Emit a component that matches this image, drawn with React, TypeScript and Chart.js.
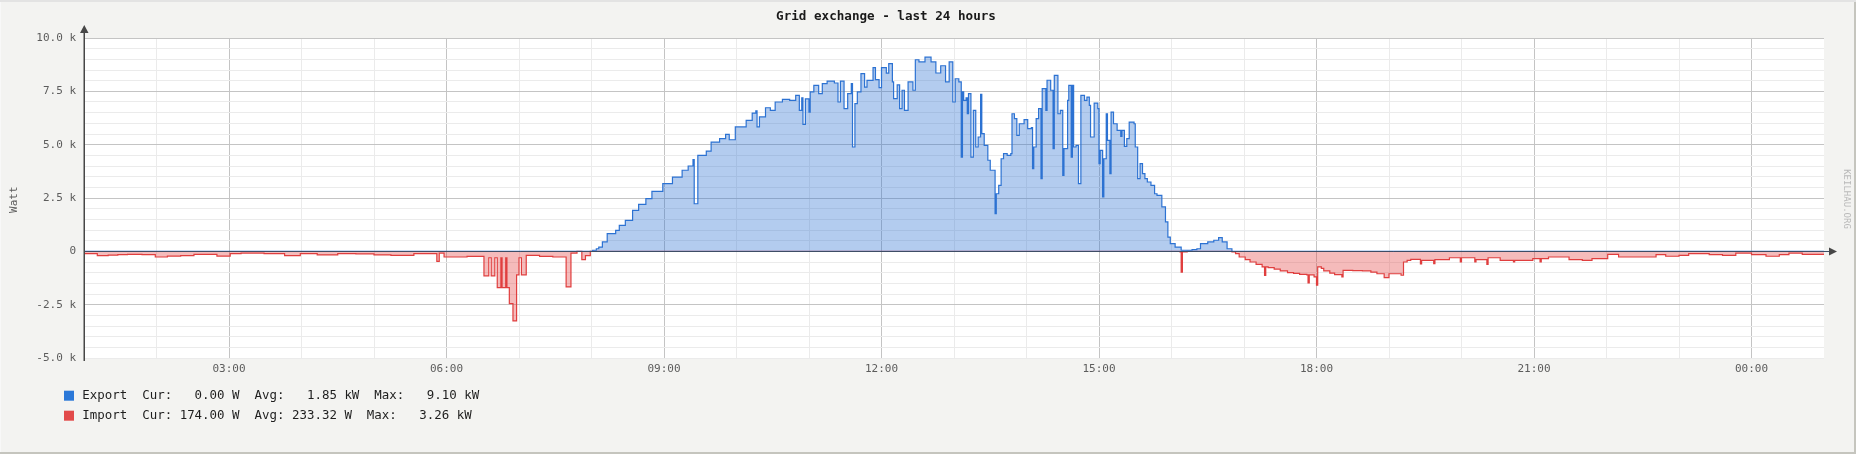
import React, { useEffect, useRef } from 'react';
import { Chart, registerables } from 'chart.js';

Chart.register(...registerables);

// ---------- texts ----------
const TITLE = 'Grid exchange - last 24 hours';
const Y_TITLE = 'Watt';
const WATERMARK = 'KEILHAU.ORG';
const START_HOUR = 1; // x = 0 minutes is 01:00
const SPAN_MINUTES = 1440;

// ---------- legend values ----------
const seriesNames = ['Export', 'Import'];
const curValues = [0.0, 174.0];
const curPrefix = ['', ''];
const avgValues = [1.85, 233.32];
const avgPrefix = ['k', ''];
const maxValues = [9.1, 3.26];
const maxPrefix = ['k', 'k'];

// ---------- data: minutes since 01:00 and watts (step changes) ----------
const exportMinutes = [
  0, 419, 421, 424, 426, 429, 433, 440, 443, 448, 454, 459, 465, 470, 479, 487, 495, 500, 504, 505,
  508, 515, 519, 526, 531, 534, 539, 548, 553, 556, 557, 559, 564, 568, 572, 578, 584, 589, 592, 594,
  595, 597, 600, 601, 604, 608, 611, 615, 621, 624, 626, 629, 632, 635, 636, 638, 640, 643, 646, 648,
  653, 655, 658, 660, 664, 666, 669, 670, 673, 675, 677, 679, 682, 686, 688, 691, 696, 701, 705, 709,
  713, 716, 719, 721, 724, 726, 727, 728, 730, 731, 732, 734, 736, 738, 740, 742, 743, 745, 748, 750,
  754, 755, 757, 759, 761, 764, 767, 768, 770, 772, 774, 778, 781, 784, 785, 786, 788, 790, 792, 793,
  796, 797, 800, 802, 803, 806, 808, 810, 811, 814, 815, 817, 818, 819, 821, 823, 825, 828, 830, 832,
  833, 836, 839, 840, 841, 843, 844, 846, 847, 849, 850, 852, 855, 858, 859, 861, 863, 865, 869, 870,
  872, 874, 876, 878, 880, 883, 886, 888, 892, 895, 897, 899, 903, 908, 913, 917, 921, 924, 930, 935,
  939, 942, 946, 950, 1440,
];
const exportWatts = [
  0, 0, 50, 120, 200, 440, 830, 985, 1220, 1450, 1920, 2200, 2470, 2810, 3170, 3480, 3800, 4000, 4300, 2230,
  4500, 4700, 5120, 5280, 5480, 5230, 5830, 6140, 6480, 6580, 5830, 6300, 6730, 6610, 7000, 7125, 7080, 7310, 6610, 7200,
  5950, 7150, 6530, 7470, 7780, 7390, 7860, 7980, 7890, 7000, 7980, 6690, 7390, 7860, 4890, 6920, 7470, 8330, 7700, 8010,
  8610, 8050, 7670, 8610, 8350, 8800, 7940, 7160, 7800, 6690, 7550, 6610, 7940, 7550, 8980, 8880, 9100, 8880, 8360, 8700,
  7940, 8880, 7000, 8090, 7940, 4420, 7470, 7080, 7200, 6450, 7390, 4420, 6610, 4890, 5360, 7360, 5520, 4970, 4270, 3800,
  1770, 2700, 3090, 4340, 4580, 4500, 4580, 6450, 6220, 5440, 5980, 6170, 5750, 5800, 3880, 4890, 6220, 6690, 3410, 7630,
  6610, 8020, 7550, 4810, 8250, 6450, 6610, 3560, 4810, 7080, 7780, 4420, 7780, 4890, 4970, 3170, 7310, 7080, 7230, 6840,
  5360, 6950, 6690, 4110, 4730, 2550, 4340, 6450, 5200, 3640, 6530, 5980, 5670, 5390, 5670, 4920, 5280, 6060, 5980, 4890,
  3410, 4110, 3640, 3410, 3250, 3090, 2700, 2620, 2080, 1380, 670, 360, 200, 50, 50, 80, 120, 360, 440, 520,
  640, 440, 120, 0, 0,
];

const importMinutes = [
  0, 11, 20, 28, 36, 48, 59, 69, 80, 91, 110, 121, 130, 149, 166, 179, 193, 210, 225, 240,
  254, 273, 292, 294, 298, 317, 331, 335, 337, 340, 342, 345, 346, 349, 350, 352, 355, 358, 360, 362,
  366, 377, 388, 399, 403, 408, 412, 415, 419, 907, 908, 909, 913, 950, 953, 956, 961, 965, 970, 975,
  977, 978, 980, 985, 990, 996, 1001, 1006, 1012, 1013, 1014, 1018, 1020, 1021, 1024, 1026, 1031, 1035, 1041, 1042,
  1050, 1058, 1065, 1070, 1076, 1080, 1090, 1092, 1095, 1098, 1106, 1107, 1117, 1118, 1130, 1139, 1140, 1151, 1152, 1161,
  1162, 1172, 1183, 1184, 1199, 1205, 1206, 1212, 1229, 1240, 1248, 1261, 1270, 1290, 1301, 1309, 1320, 1328, 1345, 1356,
  1367, 1380, 1392, 1403, 1411, 1422, 1440,
];
const importWatts = [
  110, 200, 180, 155, 140, 150, 265, 220, 200, 140, 220, 110, 80, 110, 200, 110, 170, 110, 120, 170,
  190, 110, 470, 80, 265, 235, 1150, 300, 1150, 300, 1700, 300, 1700, 300, 1700, 2450, 3260, 1100, 300, 1100,
  190, 235, 265, 1670, 80, 0, 390, 200, 0, 30, 970, 30, 0, 30, 110, 265, 390, 500, 610, 730,
  1125, 730, 760, 830, 920, 1000, 1030, 1080, 1100, 1480, 1100, 1200, 1590, 730, 800, 920, 1020, 1090, 1200, 890,
  900, 920, 970, 1050, 1230, 1050, 1120, 500, 420, 375, 590, 420, 580, 390, 300, 500, 300, 500, 390, 610,
  300, 420, 500, 420, 345, 500, 345, 265, 390, 420, 345, 140, 265, 265, 155, 230, 190, 110, 155, 190,
  80, 155, 230, 155, 80, 140, 174,
];

// ---------- axis ----------
const Y_MIN = -5000;
const Y_MAX = 10000;
const Y_MINOR = 500;
const Y_MAJOR = 2500;
const X_MINOR = 60;
const X_MAJOR_HOURS = 3;

// ---------- style ----------
const FONT = "'DejaVu Sans Mono', monospace";
const BG = '#f3f3f1';
const GRID_MAJOR = '#c4c4c4';
const GRID_MINOR = '#ebebeb';
const AXIS = '#474747';
const ZERO_AXIS = '#3e4d66';
const TICK_COLOR = '#5c5c5c';
const EXPORT_LINE = '#2c72d2';
const EXPORT_FILL = 'rgba(44,114,210,0.36)';
const EXPORT_BOX = '#2b78d8';
const IMPORT_LINE = '#e03e3e';
const IMPORT_FILL = 'rgba(228,66,66,0.36)';
const IMPORT_BOX = '#e24a4a';

const fmt = (v: number, p: string) => v.toFixed(2).padStart(6) + ' ' + p + 'W';
const legendLines = seriesNames.map(
  (n, i) =>
    n.padEnd(8) +
    'Cur: ' + fmt(curValues[i], curPrefix[i]) +
    '  Avg: ' + fmt(avgValues[i], avgPrefix[i]) +
    '  Max: ' + fmt(maxValues[i], maxPrefix[i])
);
const legendColors = [EXPORT_BOX, IMPORT_BOX];

const decor = {
  id: 'rrdDecor',
  beforeDraw(chart: any) {
    const { ctx, width, height, chartArea: a } = chart;
    ctx.save();
    ctx.fillStyle = BG;
    ctx.fillRect(0, 0, width, height);
    ctx.fillStyle = '#ffffff';
    ctx.fillRect(a.left, a.top, a.right - a.left, a.bottom - a.top);
    ctx.restore();
  },
  afterDatasetsDraw(chart: any) {
    const { ctx, chartArea: a, scales } = chart;
    const y0 = Math.round(scales.y.getPixelForValue(0)) + 0.5;
    ctx.save();
    // zero axis
    ctx.strokeStyle = ZERO_AXIS;
    ctx.lineWidth = 1;
    ctx.beginPath();
    ctx.moveTo(a.left, y0);
    ctx.lineTo(a.right + 6, y0);
    ctx.stroke();
    ctx.fillStyle = AXIS;
    ctx.strokeStyle = AXIS;
    // y axis
    ctx.lineWidth = 1.5;
    ctx.beginPath();
    ctx.moveTo(a.left + 0.25, a.top - 6);
    ctx.lineTo(a.left + 0.25, a.bottom + 3);
    ctx.stroke();
    ctx.beginPath();
    ctx.moveTo(a.left + 0.25, a.top - 13);
    ctx.lineTo(a.left - 4, a.top - 5);
    ctx.lineTo(a.left + 4.5, a.top - 5);
    ctx.closePath();
    ctx.fill();
    // x axis arrow
    ctx.beginPath();
    ctx.moveTo(a.right + 13, y0);
    ctx.lineTo(a.right + 5, y0 - 4);
    ctx.lineTo(a.right + 5, y0 + 4);
    ctx.closePath();
    ctx.fill();
    ctx.restore();
  },
  afterDraw(chart: any) {
    const { ctx, width, height, chartArea: a } = chart;
    ctx.save();
    // title
    ctx.fillStyle = '#1a1a1a';
    ctx.font = `bold 12.6px ${FONT}`;
    ctx.textAlign = 'center';
    ctx.textBaseline = 'middle';
    ctx.fillText(TITLE, 886, 16.5);
    // y title
    ctx.save();
    ctx.translate(14.2, 199.7);
    ctx.rotate(-Math.PI / 2);
    ctx.font = `11px ${FONT}`;
    ctx.fillStyle = TICK_COLOR;
    ctx.fillText(Y_TITLE, 0, 0);
    ctx.restore();
    // watermark
    ctx.save();
    ctx.translate(1846.7, 199);
    ctx.rotate(Math.PI / 2);
    ctx.font = `9px ${FONT}`;
    ctx.fillStyle = '#b8b8b8';
    ctx.fillText(WATERMARK, 0, 0);
    ctx.restore();
    // legend
    ctx.font = `12.45px ${FONT}`;
    ctx.textAlign = 'left';
    legendLines.forEach((line, i) => {
      const cy = a.bottom + 37.7 + i * 20;
      ctx.fillStyle = legendColors[i];
      ctx.fillRect(64, cy - 5, 10, 10);
      ctx.fillStyle = '#1e1e1e';
      ctx.fillText(line, 82.3, cy);
    });
    // frame
    ctx.fillStyle = '#e3e3e3';
    ctx.fillRect(0, 0, width, 2);
    ctx.fillStyle = '#f8f8f8';
    ctx.fillRect(0, 2, 1, height - 2);
    ctx.fillStyle = '#c5c5be';
    ctx.fillRect(0, height - 2, width, 2);
    ctx.fillRect(width - 2, 2, 2, height - 2);
    ctx.restore();
  },
};

const pad2 = (n: number) => String(n).padStart(2, '0');

export default function App() {
  const ref = useRef<HTMLCanvasElement>(null);

  useEffect(() => {
    document.body.style.margin = '0';
    const exportData = exportMinutes.map((m, i) => ({ x: m, y: exportWatts[i] }));
    const importData = importMinutes.map((m, i) => ({ x: m, y: -importWatts[i] }));

    const chart = new Chart(ref.current as HTMLCanvasElement, {
      type: 'line',
      data: {
        datasets: [
          {
            label: seriesNames[0],
            data: exportData,
            borderColor: EXPORT_LINE,
            backgroundColor: EXPORT_FILL,
            borderWidth: 1.2,
            fill: 'origin',
            stepped: 'before',
            pointRadius: 0,
          },
          {
            label: seriesNames[1],
            data: importData,
            borderColor: IMPORT_LINE,
            backgroundColor: IMPORT_FILL,
            borderWidth: 1.2,
            fill: 'origin',
            stepped: 'before',
            pointRadius: 0,
          },
        ],
      },
      options: {
        animation: false,
        responsive: false,
        devicePixelRatio: 1,
        events: [],
        layout: { padding: { left: 0, right: 32, top: 38, bottom: 66 } },
        plugins: {
          legend: { display: false },
          title: { display: false },
          tooltip: { enabled: false },
        },
        scales: {
          x: {
            type: 'linear',
            min: 0,
            max: SPAN_MINUTES,
            border: { display: false },
            grid: {
              drawTicks: false,
              lineWidth: 1,
              color: (c: any) => {
                const v = c.tick ? c.tick.value : 0;
                if (v <= 0 || v >= SPAN_MINUTES) return 'rgba(0,0,0,0)';
                const hh = (v / 60 + START_HOUR) % 24;
                return hh % X_MAJOR_HOURS === 0 ? GRID_MAJOR : GRID_MINOR;
              },
            },
            ticks: {
              stepSize: X_MINOR,
              autoSkip: false,
              maxRotation: 0,
              minRotation: 0,
              padding: 5,
              color: TICK_COLOR,
              font: { family: FONT, size: 11 },
              callback: (value: any) => {
                const v = Number(value);
                if (v <= 0 || v >= SPAN_MINUTES) return '';
                const hh = (v / 60 + START_HOUR) % 24;
                return hh % X_MAJOR_HOURS === 0 ? `${pad2(hh)}:00` : '';
              },
            },
            afterFit: (s: any) => {
              s.height = 30;
            },
          },
          y: {
            type: 'linear',
            min: Y_MIN,
            max: Y_MAX,
            border: { display: false },
            grid: {
              drawTicks: false,
              lineWidth: 1,
              color: (c: any) => {
                const v = c.tick ? c.tick.value : 0;
                if (v === Y_MIN) return GRID_MINOR;
                return v % Y_MAJOR === 0 ? GRID_MAJOR : GRID_MINOR;
              },
            },
            ticks: {
              stepSize: Y_MINOR,
              autoSkip: false,
              padding: 8,
              color: TICK_COLOR,
              font: { family: FONT, size: 11 },
              callback: (value: any) => {
                const v = Number(value);
                if (v % Y_MAJOR !== 0) return '';
                if (v === 0) return '0';
                return (v / 1000).toFixed(1) + ' k';
              },
            },
            afterFit: (s: any) => {
              s.width = 84;
            },
          },
        },
      },
      plugins: [decor],
    } as any);

    return () => chart.destroy();
  }, []);

  return (
    <div style={{ width: 1856, height: 454 }}>
      <canvas ref={ref} width={1856} height={454} style={{ display: 'block', width: 1856, height: 454 }} />
    </div>
  );
}
